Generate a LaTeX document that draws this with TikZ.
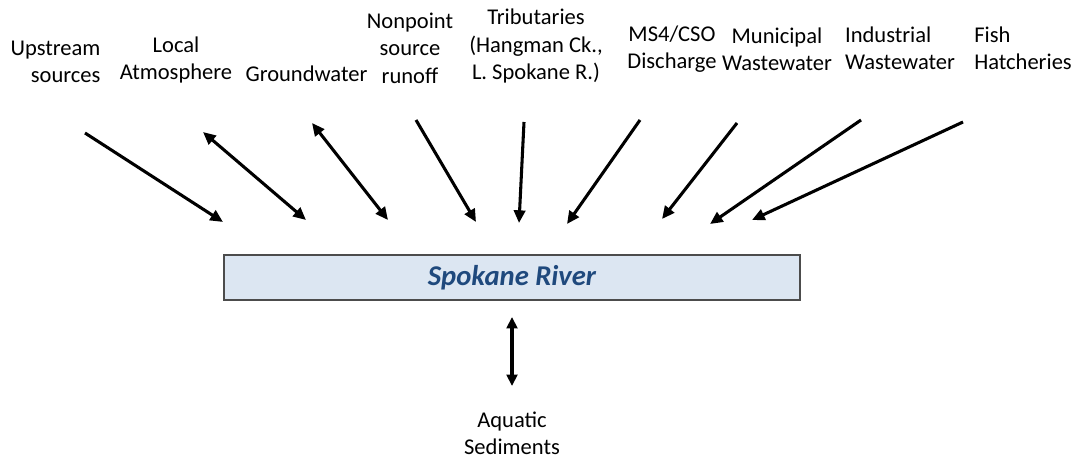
\documentclass[tikz,border=0pt]{standalone}
\usepackage{fontspec}
\setmainfont{Carlito}
\usepackage{xcolor}
\usetikzlibrary{arrows.meta, positioning}

\definecolor{riverfill}{HTML}{DCE6F2}
\definecolor{rivertext}{HTML}{1F497D}

\begin{document}
\begin{tikzpicture}[
        x=0.75pt, y=-0.75pt,
        source/.style={font=\fontsize{16.9}{20.6}\selectfont, inner sep=0pt},
        river/.style={rectangle, draw=black!70, fill=riverfill, line width=0.8pt,
            minimum width=432pt, minimum height=33.75pt,
            font=\fontsize{21.5}{25}\selectfont\bfseries\itshape, text=rivertext},
        flow/.style={-{Triangle[length=9.5pt, width=8.5pt]}, line width=2.3pt},
        exchange/.style={{Triangle[length=9.5pt, width=8.5pt]}-{Triangle[length=9.5pt, width=8.5pt]}, line width=2.3pt},
        sedflow/.style={{Triangle[length=8.5pt, width=8pt]}-{Triangle[length=8.5pt, width=8pt]}, line width=2.3pt}
    ]
        \useasboundingbox (0,0) rectangle (1073,459);

        % Receiving water
        \node[river] (river) at (512,277.5) {Spokane River};

        % Sources
        \node[source, align=right]  (upstream)   at (55.5,62)   {Upstream\\sources};
        \node[source, align=center] (atmosphere) at (176,60)    {Local\\Atmosphere};
        \node[source]               (groundwater) at (306.5,74) {Groundwater};
        \node[source, align=center] (nonpoint)   at (410,48)    {Nonpoint\\source\\runoff};
        \node[source, align=center] (tributaries) at (536,46)   {Tributaries\\(Hangman Ck.,\\L. Spokane R.)};
        \node[source, align=center] (ms4)        at (672,49)    {MS4/CSO\\Discharge};
        \node[source, align=center] (municipal)  at (777,49.5)  {Municipal\\Wastewater};
        \node[source, align=left]   (industrial) at (900,48.5)  {Industrial\\Wastewater};
        \node[source, align=left]   (hatcheries) at (1023,48.5) {Fish\\Hatcheries};
        \node[source, align=center] (sediments)  at (512,433.5) {Aquatic\\Sediments};

        % Arrow ends
        \coordinate (upstream-t) at (85,133);     \coordinate (upstream-h) at (223,222);
        \coordinate (atmosphere-t) at (203,132);  \coordinate (atmosphere-h) at (306,220);
        \coordinate (groundwater-t) at (312,123); \coordinate (groundwater-h) at (388,220);
        \coordinate (nonpoint-t) at (416,120);    \coordinate (nonpoint-h) at (476,222);
        \coordinate (tributaries-t) at (524,122); \coordinate (tributaries-h) at (519,223);
        \coordinate (ms4-t) at (640,120);         \coordinate (ms4-h) at (567,224);
        \coordinate (municipal-t) at (737,123);   \coordinate (municipal-h) at (662,219);
        \coordinate (industrial-t) at (861,120);  \coordinate (industrial-h) at (710,224);
        \coordinate (hatcheries-t) at (963,122);  \coordinate (hatcheries-h) at (752,220);
        \coordinate (sediments-t) at (512,317);   \coordinate (sediments-h) at (512,386);

        % Loads to the river
        \draw[flow] (upstream-t) -- (upstream-h);
        \draw[exchange] (atmosphere-t) -- (atmosphere-h);
        \draw[exchange] (groundwater-t) -- (groundwater-h);
        \draw[flow] (nonpoint-t) -- (nonpoint-h);
        \draw[flow] (tributaries-t) -- (tributaries-h);
        \draw[flow] (ms4-t) -- (ms4-h);
        \draw[flow] (municipal-t) -- (municipal-h);
        \draw[flow] (industrial-t) -- (industrial-h);
        \draw[flow] (hatcheries-t) -- (hatcheries-h);

        % Sediment exchange
        \draw[sedflow] (sediments-t) -- (sediments-h);

    \end{tikzpicture}
\end{document}
